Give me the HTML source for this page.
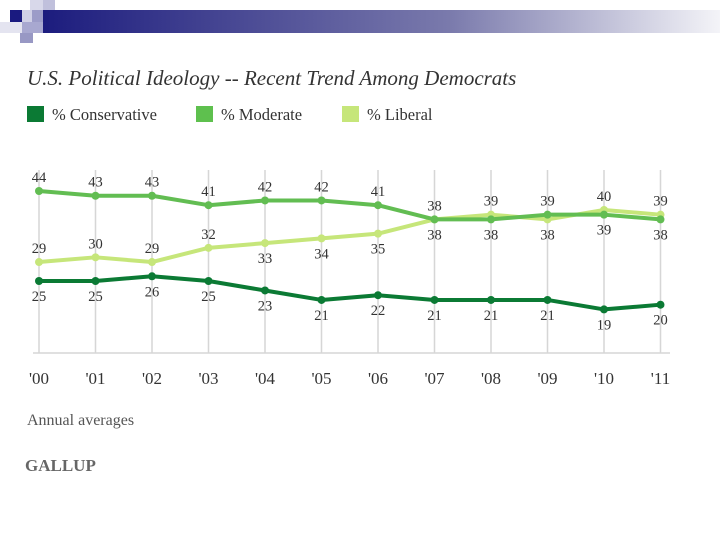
<!DOCTYPE html>
<html><head><meta charset="utf-8"><style>
body{margin:0;width:720px;height:540px;background:#fff;overflow:hidden;font-family:"Liberation Serif",serif;}
</style></head><body>
<svg width="720" height="540">
<defs><linearGradient id="g" x1="0" x2="1"><stop offset="0" stop-color="#1c1c7e"/><stop offset="0.6" stop-color="#7a7aac"/><stop offset="1" stop-color="#f4f4f8"/></linearGradient></defs>
<g>
<rect x="43" y="10" width="677" height="23" fill="url(#g)"/>
<rect x="30" y="0" width="13" height="10" fill="#d8d8ea"/>
<rect x="43" y="0" width="12" height="10" fill="#c0c0dc"/>
<rect x="10" y="10" width="12" height="12" fill="#1a1a80"/>
<rect x="22" y="10" width="10" height="12" fill="#d0d0e6"/>
<rect x="32" y="10" width="11" height="12" fill="#9c9cc8"/>
<rect x="0" y="22" width="22" height="11" fill="#e4e4f0"/>
<rect x="22" y="22" width="21" height="11" fill="#a8a8d0"/>
<rect x="20" y="33" width="13" height="10" fill="#9898c4"/>
</g>
<text x="27" y="85" font-size="21" font-style="italic" fill="#333">U.S. Political Ideology -- Recent Trend Among Democrats</text>
<g font-size="16.5" fill="#333">
<rect x="27" y="106" width="17" height="16" fill="#0b7a34"/>
<text x="52" y="120">% Conservative</text>
<rect x="196" y="106" width="17" height="16" fill="#5ec04e"/>
<text x="221" y="120">% Moderate</text>
<rect x="342" y="106" width="17" height="16" fill="#c6e67a"/>
<text x="367" y="120">% Liberal</text>
</g>
<g id="plot"></g>
<text x="27" y="425" font-size="16" fill="#555">Annual averages</text>
<text x="25" y="471" font-size="17" fill="#666" font-weight="bold">GALLUP</text>
</svg>
<script>
const years=["'00","'01","'02","'03","'04","'05","'06","'07","'08","'09","'10","'11"];
const conservative=[25,25,26,25,23,21,22,21,21,21,19,20];
const moderate=[44,43,43,41,42,42,41,38,38,39,39,38];
const liberal=[29,30,29,32,33,34,35,38,39,38,40,39];
const NS="http://www.w3.org/2000/svg";
const plot=document.getElementById('plot');
const xS=i=>39+i*56.5;
const yS=v=>191+(44-v)*4.737;
function mk(t,a){const e=document.createElementNS(NS,t);for(const k in a)e.setAttribute(k,a[k]);plot.appendChild(e);return e;}
years.forEach((y,i)=>{
 const l=mk('line',{x1:xS(i),x2:xS(i),y1:170,y2:353,stroke:'#d6d6d6','stroke-width':1.5});
 
 
 const t=mk('text',{x:xS(i),y:384,'font-size':17,fill:'#333','text-anchor':'middle'});
 
 
 t.textContent=y;
});
const base=mk('line',{x1:33,x2:670,y1:353,y2:353,stroke:'#d6d6d6','stroke-width':1.5});


function series(vals,color,name,labelPos){
 const p=mk('polyline',{points:vals.map((v,i)=>xS(i)+','+yS(v)).join(' '),fill:'none',stroke:color,'stroke-width':4,'stroke-linejoin':'round'});
 
 
 vals.forEach((v,i)=>{
  const c=mk('circle',{cx:xS(i),cy:yS(v),r:4,fill:color});
  
  
  const above=labelPos(i);
  const t=mk('text',{x:xS(i),y:yS(v)+(above?-9:20),'font-size':14.5,fill:'#333','text-anchor':'middle'});
  
  
  t.textContent=v;
 });
}
series(liberal,'#c6e67a','liberal',i=>i<4||liberal[i]>moderate[i]);
series(moderate,'#62bd52','moderate',i=>moderate[i]>=liberal[i]);
series(conservative,'#0b7a34','conservative',i=>false);
</script>
</body></html>
